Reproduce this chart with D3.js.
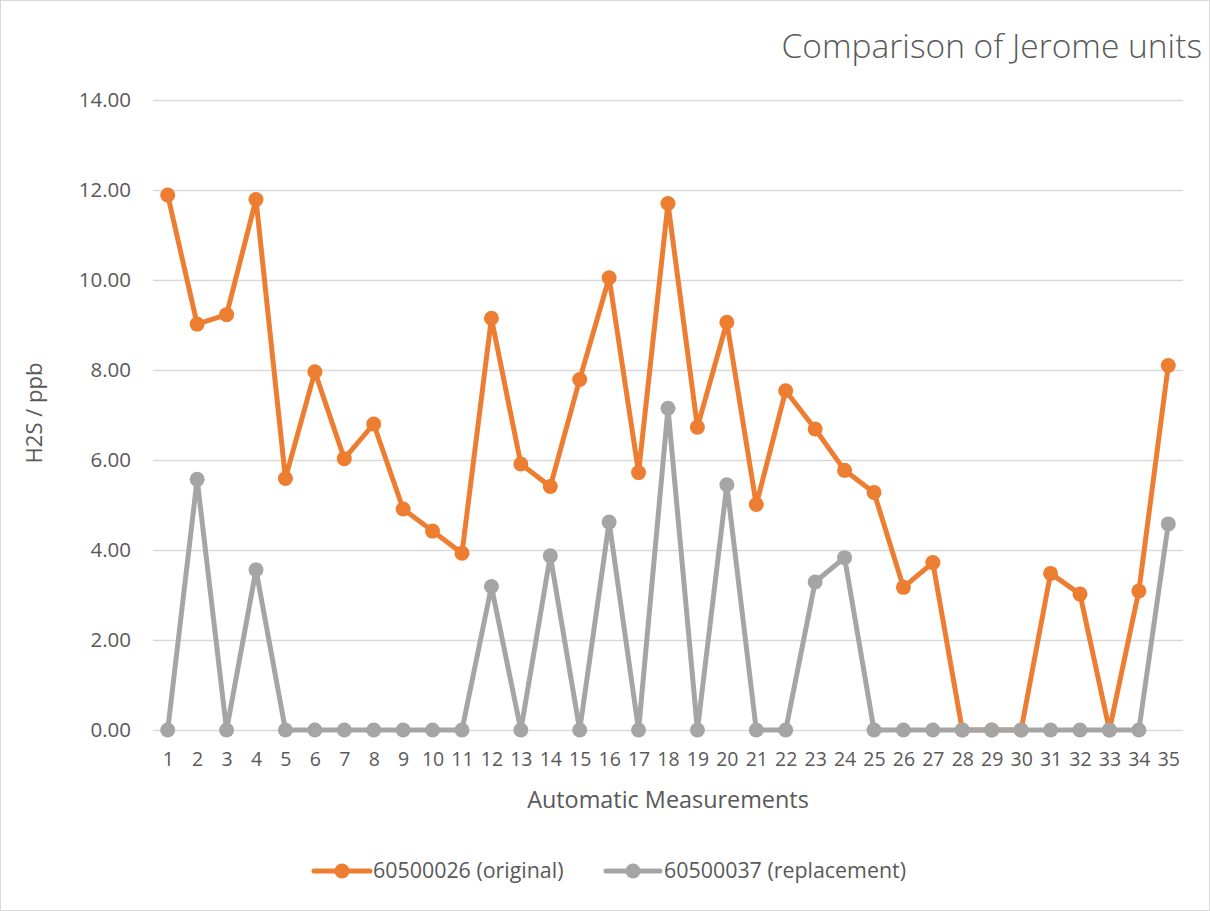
<!DOCTYPE html>
<html>
<head>
<meta charset="UTF-8" />
<script src="https://cdn.jsdelivr.net/npm/d3@7"></script>
<title>Comparison of Jerome units</title>
<style>
    body { margin: 0; background: white; }
    svg { display: block; font-family: "Open Sans", Lato, sans-serif; }
</style>
</head>
<body>
<div id="chart"></div>
<script>
// readings, H2S in ppb
const measurements = d3.range(1, 36);
const original = [11.89, 9.02, 9.23, 11.79, 5.59, 7.96, 6.03, 6.80, 4.91, 4.42,
    3.93, 9.15, 5.91, 5.41, 7.79, 10.05, 5.72, 11.70, 6.73, 9.06,
    5.01, 7.54, 6.69, 5.77, 5.28, 3.17, 3.72, 0, 0, 0,
    3.48, 3.02, 0, 3.09, 8.10];
const replacement = [0, 5.57, 0, 3.56, 0, 0, 0, 0, 0, 0,
    0, 3.19, 0, 3.87, 0, 4.62, 0, 7.15, 0, 5.45,
    0, 0, 3.29, 3.83, 0, 0, 0, 0, 0, 0,
    0, 0, 0, 0, 4.58];
const yTicks = [0, 2, 4, 6, 8, 10, 12, 14];
const seriesNames = ["60500026 (original)", "60500037 (replacement)"];
const colors = ["#ED7D31", "#A5A5A5"];

const w = 1210, h = 911;
const textColor = "#595959";

const svg = d3.select("#chart").append("svg")
    .attr("width", w)
    .attr("height", h);

svg.append("rect")
    .attr("x", 0.5).attr("y", 0.5)
    .attr("width", w - 1).attr("height", h - 1)
    .attr("fill", "white")
    .attr("stroke", "#D9D9D9");

const x = d3.scalePoint()
    .domain(measurements)
    .range([153, 1183])
    .padding(0.5);
const y = d3.scaleLinear()
    .domain([0, 14])
    .range([730, 100]);

// gridlines + y labels
const yAxis = d3.axisLeft(y)
    .tickValues(yTicks)
    .tickFormat(d3.format(".2f"))
    .tickSize(-(1183 - 153))
    .tickPadding(22);
const gy = svg.append("g")
    .attr("transform", "translate(153,0)")
    .call(yAxis)
    .attr("font-family", null);
gy.select(".domain").remove();
gy.selectAll(".tick line").attr("stroke", "#D9D9D9").attr("stroke-width", 1.3);
gy.selectAll(".tick text").attr("fill", textColor).style("font-size", "20.5px");

const xAxis = d3.axisBottom(x).tickSize(0).tickPadding(22);
const gx = svg.append("g")
    .attr("transform", "translate(0,730)")
    .call(xAxis)
    .attr("font-family", null);
gx.select(".domain").remove();
gx.selectAll(".tick text").attr("fill", textColor).style("font-size", "19.5px");

// series
const line = d3.line()
    .x((d, i) => x(measurements[i]))
    .y(d => y(d));

[original, replacement].forEach((vals, k) => {
    const g = svg.append("g");
    g.append("path")
        .datum(vals)
        .attr("d", line)
        .attr("fill", "none")
        .attr("stroke", colors[k])
        .attr("stroke-width", 5)
        .attr("stroke-linejoin", "round");
    g.selectAll("circle").data(vals).enter()
        .append("circle")
        .attr("cx", (d, i) => x(measurements[i]))
        .attr("cy", d => y(d))
        .attr("r", 7.5)
        .attr("fill", colors[k]);
});

// titles
svg.append("text")
    .attr("x", 1202).attr("y", 58)
    .attr("text-anchor", "end")
    .attr("fill", textColor)
    .style("font-size", "33.5px")
    .style("font-weight", 300)
    .text("Comparison of Jerome units");

svg.append("text")
    .attr("transform", "translate(42,413) rotate(-90)")
    .attr("text-anchor", "middle")
    .attr("fill", textColor)
    .style("font-size", "22px")
    .text("H2S / ppb");

svg.append("text")
    .attr("x", 668).attr("y", 808)
    .attr("text-anchor", "middle")
    .attr("fill", textColor)
    .style("font-size", "23.4px")
    .text("Automatic Measurements");

// legend
const legendItems = [
    { x0: 314, x1: 370, tx: 373 },
    { x0: 606, x1: 660, tx: 664 }
];
legendItems.forEach((it, k) => {
    const lg = svg.append("g");
    lg.append("line")
        .attr("x1", it.x0).attr("x2", it.x1)
        .attr("y1", 871).attr("y2", 871)
        .attr("stroke", colors[k])
        .attr("stroke-width", 5)
        .attr("stroke-linecap", "round");
    lg.append("circle")
        .attr("cx", (it.x0 + it.x1) / 2).attr("cy", 871)
        .attr("r", 7.5)
        .attr("fill", colors[k]);
    lg.append("text")
        .attr("x", it.tx).attr("y", 878)
        .attr("fill", textColor)
        .style("font-size", "21.4px")
        .text(seriesNames[k]);
});
</script>
</body>
</html>
